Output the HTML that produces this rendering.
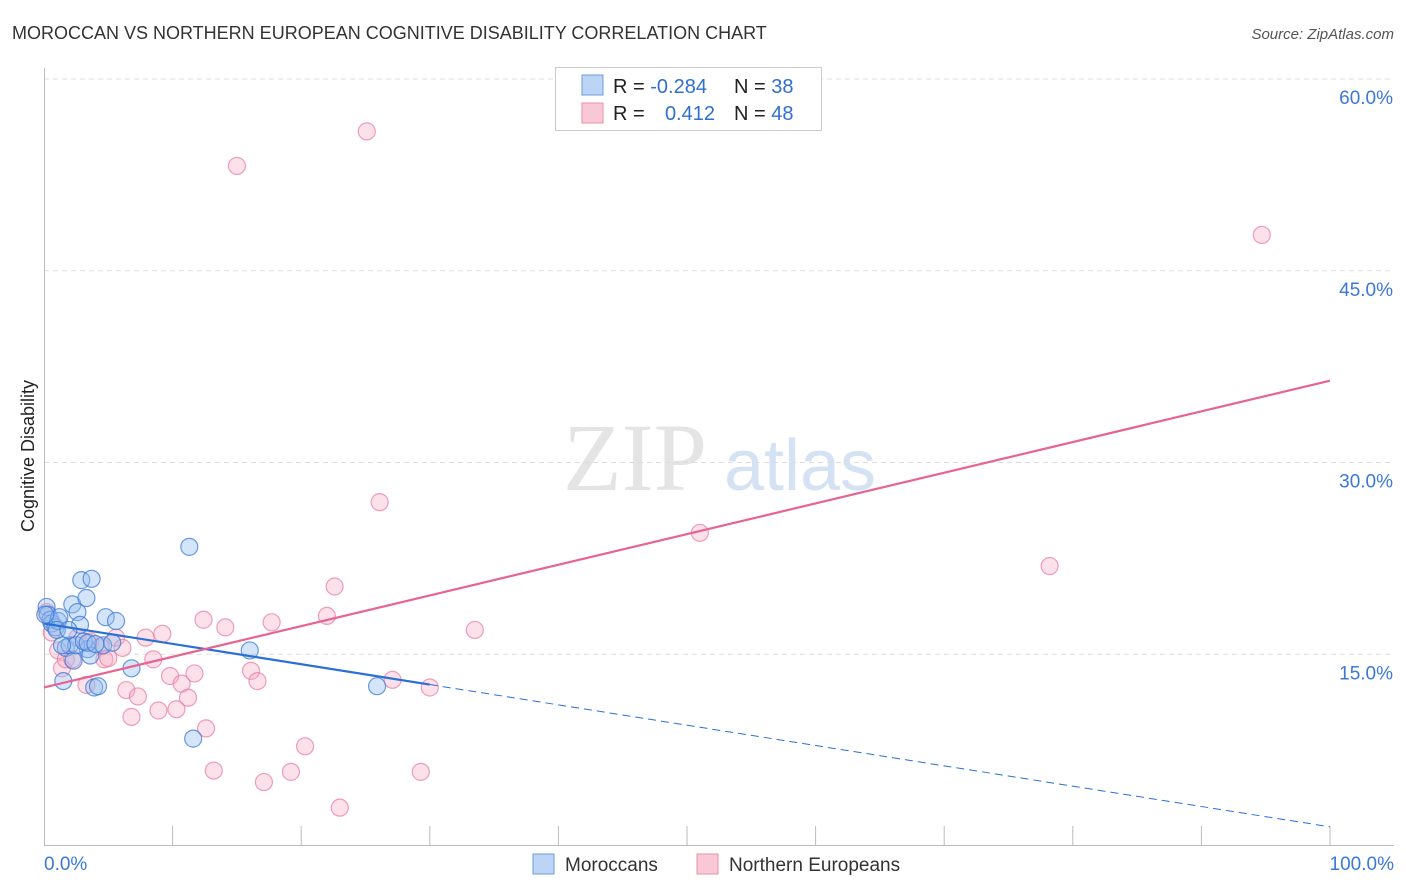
<!DOCTYPE html>
<html><head><meta charset="utf-8"><style>
body{margin:0;background:#fff;font-family:"Liberation Sans",sans-serif}
svg{display:block}
</style></head><body>
<svg id="c" width="1406" height="892" xmlns="http://www.w3.org/2000/svg">
<text x="12" y="39" font-size="18" fill="#333">MOROCCAN VS NORTHERN EUROPEAN COGNITIVE DISABILITY CORRELATION CHART</text>
<text x="1394" y="39" font-size="15" fill="#555" font-style="italic" text-anchor="end">Source: ZipAtlas.com</text>
<text x="0" y="0" font-size="18" fill="#222" transform="translate(34,456) rotate(-90)" text-anchor="middle">Cognitive Disability</text>
<g><text x="635" y="490" font-size="96" font-family="Liberation Serif" fill="#e4e4e4" text-anchor="middle">ZIP</text><text x="800" y="490" font-size="72" fill="#d4e2f4" text-anchor="middle">atlas</text></g>
<g id="grid"></g><g id="axes"></g><g id="pts"></g><g id="lines"></g>
<g>
<rect x="555.5" y="67.5" width="266" height="63" fill="#fff" stroke="#ccc"/>
<rect x="582" y="75" width="21" height="20" fill="#bcd5f5" stroke="#6a9de0"/>
<rect x="582" y="103" width="21" height="20" fill="#f8c8d6" stroke="#eb8fab"/>
<text x="613" y="93" font-size="20" fill="#222">R = <tspan fill="#2f6fd0">-0.284</tspan></text>
<text x="734" y="93" font-size="20" fill="#222">N = <tspan fill="#2f6fd0">38</tspan></text>
<text x="613" y="120" font-size="20" fill="#222">R = </text><text x="715" y="120" font-size="20" fill="#2f6fd0" text-anchor="end">0.412</text>
<text x="734" y="120" font-size="20" fill="#222">N = <tspan fill="#2f6fd0">48</tspan></text>
</g>
<g>
<rect x="533" y="854" width="21" height="20" fill="#bcd5f5" stroke="#6a9de0"/>
<text x="565" y="871" font-size="19" fill="#333">Moroccans</text>
<rect x="697" y="854" width="21" height="20" fill="#f8c8d6" stroke="#eb8fab"/>
<text x="729" y="871" font-size="19" fill="#333">Northern Europeans</text>
</g>
</svg>
<script>
const yTicks=[15,30,45,60];
const xTickLabels=["0.0%","100.0%"];
const blueX=[0.2,0.3,0.5,0.6,0.9,1.1,1.2,1.5,1.7,2.0,2.2,2.3,2.6,2.8,2.9,3.3,3.4,3.6,3.7,3.9,4.2,4.6,4.8,5.3,5.6,6.8,11.3,11.6,16.0,25.9,2.5,3.1,3.4,4.0,1.4,0.1,1.0,1.9];
const blueY=[18.7,18.1,17.7,17.4,17.1,17.6,17.9,12.9,15.5,15.7,18.9,14.5,18.3,17.3,20.8,19.4,15.4,14.9,20.9,12.4,12.5,15.7,17.9,15.9,17.6,13.9,23.4,8.4,15.3,12.5,15.7,16.0,15.9,15.8,15.7,18.1,16.9,16.9];
const pinkX=[0.2,0.6,1.1,1.4,1.7,2.2,2.6,3.3,3.6,4.4,4.7,5.0,5.6,6.1,6.4,6.8,7.3,7.9,8.5,8.9,9.2,9.8,10.3,10.7,11.2,11.7,12.4,12.6,13.2,14.1,15.0,16.1,16.6,17.1,17.7,19.2,20.3,22.0,22.6,23.0,25.1,26.1,27.1,29.3,30.0,33.5,51.0,78.2,94.7];
const pinkY=[18.3,16.7,15.3,13.9,14.6,14.6,16.3,12.6,16.0,15.6,14.6,14.7,16.3,15.5,12.2,10.1,11.7,16.3,14.6,10.6,16.6,13.3,10.7,12.7,11.6,13.5,17.7,9.2,5.9,17.1,53.2,13.7,12.9,5.0,17.5,5.8,7.8,18.0,20.3,3.0,55.9,26.9,13.0,5.8,12.4,16.9,24.5,21.9,47.8];
const blueFit=[17.4,-0.159];   // intercept, slope (per % x)
const pinkFit=[12.4,0.24];
const NS="http://www.w3.org/2000/svg";
const X0=44,X1=1330,Y0=846,PX=(X1-X0)/100,PY=(846-79)/60;
const sx=v=>X0+v*PX, sy=v=>Y0-v*PY;
function mk(t,a,p){const e=document.createElementNS(NS,t);for(const k in a)e.setAttribute(k,a[k]);document.getElementById(p).appendChild(e);return e;}
mk('line',{x1:44,y1:Y0-0.5,x2:1394,y2:Y0-0.5,stroke:'#bbb'},'axes');
mk('line',{x1:44.5,y1:68,x2:44.5,y2:846,stroke:'#bbb'},'axes');
for(let i=1;i<=10;i++){const t=mk('line',{x1:sx(i*10),y1:826,x2:sx(i*10),y2:846,stroke:'#bbb'},'axes');

}
yTicks.forEach(v=>{const y=sy(v);
const g=mk('line',{x1:44,y1:y,x2:1394,y2:y,stroke:'#ddd','stroke-dasharray':'5,4'},'grid');


const t=mk('text',{x:1393,y:y+25,'font-size':19,fill:'#3b78d8','text-anchor':'end'},'axes');t.textContent=v.toFixed(1)+'%';

});
[[0,'start',44],[100,'end',1394]].forEach((d,i)=>{const t=mk('text',{x:d[2],y:870,'font-size':19,fill:'#3b78d8','text-anchor':d[1]},'axes');t.textContent=xTickLabels[i];

});
pinkX.forEach((x,i)=>{const c=mk('circle',{cx:sx(x),cy:sy(pinkY[i]),r:8.5,fill:'rgba(245,170,195,0.35)',stroke:'rgba(232,120,155,0.7)','stroke-width':1.2},'pts');

});
blueX.forEach((x,i)=>{const c=mk('circle',{cx:sx(x),cy:sy(blueY[i]),r:8.5,fill:'rgba(150,190,240,0.4)',stroke:'rgba(60,120,215,0.75)','stroke-width':1.2},'pts');

});
const f=(fit,x)=>fit[0]+fit[1]*x;
let l=mk('line',{x1:sx(0),y1:sy(f(blueFit,0)),x2:sx(30),y2:sy(f(blueFit,30)),stroke:'#2a6fd6','stroke-width':2.2},'lines');


l=mk('line',{x1:sx(30),y1:sy(f(blueFit,30)),x2:sx(100),y2:sy(f(blueFit,100)),stroke:'#2a6fd6','stroke-width':1,'stroke-dasharray':'8,5'},'lines');


l=mk('line',{x1:sx(0),y1:sy(f(pinkFit,0)),x2:sx(100),y2:sy(f(pinkFit,100)),stroke:'#e8648f','stroke-width':2.2},'lines');


</script>
</body></html>
